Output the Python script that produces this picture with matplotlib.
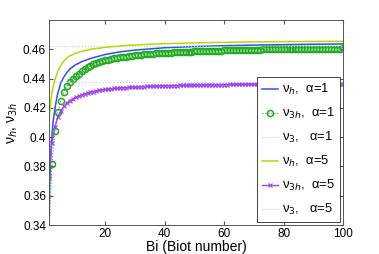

# homogenised poisson ratio against Biot number
import matplotlib.pyplot as plt

# Bi points used for the smooth curves
bi_line = [1, 1.25, 1.5, 1.75, 2, 2.5, 3, 3.5, 4, 5, 6, 7, 8, 10, 12, 15,
           20, 25, 30, 40, 50, 60, 70, 80, 90, 100]

nu_h_a1 = [0.343, 0.366, 0.382, 0.393, 0.401, 0.412, 0.419, 0.425, 0.430,
           0.437, 0.441, 0.444, 0.4465, 0.4495, 0.4515, 0.4538, 0.4565,
           0.4583, 0.4595, 0.4611, 0.4619, 0.4625, 0.4629, 0.4632, 0.4635,
           0.4637]

nu_h_a5 = [0.408, 0.416, 0.422, 0.427, 0.430, 0.435, 0.439, 0.442, 0.445,
           0.449, 0.452, 0.454, 0.4555, 0.4573, 0.4585, 0.4600, 0.4614,
           0.4623, 0.4630, 0.4639, 0.4644, 0.4648, 0.4651, 0.4653, 0.4654,
           0.4655]

# Bi = 1..100 for the marked series
bi_pts = list(range(1, 101))

nu_3h_a1 = [0.330, 0.382, 0.404, 0.417, 0.425, 0.431, 0.435, 0.4378, 0.440, 0.4418,
            0.4435, 0.4450, 0.4464, 0.4477, 0.4487, 0.4497, 0.4505, 0.4512, 0.4518, 0.4524,
            0.4529, 0.4534, 0.4538, 0.4542, 0.4545, 0.4548, 0.4551, 0.4554, 0.4557, 0.4559,
            0.4561, 0.4563, 0.4565, 0.4567, 0.4569, 0.4570, 0.4572, 0.4573, 0.4575, 0.4576,
            0.4577, 0.4578, 0.4580, 0.4581, 0.4582, 0.4583, 0.4584, 0.4584, 0.4585, 0.4586,
            0.4587, 0.4588, 0.4588, 0.4589, 0.4590, 0.4590, 0.4591, 0.4592, 0.4592, 0.4593,
            0.4593, 0.4594, 0.4594, 0.4595, 0.4595, 0.4596, 0.4596, 0.4597, 0.4597, 0.4597,
            0.4598, 0.4598, 0.4599, 0.4599, 0.4599, 0.4600, 0.4600, 0.4600, 0.4601, 0.4601,
            0.4601, 0.4602, 0.4602, 0.4602, 0.4602, 0.4603, 0.4603, 0.4603, 0.4603, 0.4604,
            0.4604, 0.4604, 0.4604, 0.4604, 0.4605, 0.4605, 0.4605, 0.4605, 0.4605, 0.4606]

nu_3h_a5 = [0.373, 0.396, 0.407, 0.4135, 0.418, 0.421, 0.4232, 0.4248, 0.4261, 0.4272,
            0.4281, 0.4289, 0.4296, 0.4302, 0.4307, 0.4312, 0.4316, 0.4320, 0.4323, 0.4326,
            0.4328, 0.4331, 0.4333, 0.4334, 0.4336, 0.4338, 0.4339, 0.4340, 0.4342, 0.4343,
            0.4344, 0.4345, 0.4346, 0.4347, 0.4347, 0.4348, 0.4349, 0.4350, 0.4350, 0.4351,
            0.4352, 0.4352, 0.4353, 0.4353, 0.4354, 0.4354, 0.4355, 0.4355, 0.4355, 0.4356,
            0.4356, 0.4357, 0.4357, 0.4357, 0.4358, 0.4358, 0.4358, 0.4358, 0.4359, 0.4359,
            0.4359, 0.4360, 0.4360, 0.4360, 0.4360, 0.4361, 0.4361, 0.4361, 0.4361, 0.4361,
            0.4362, 0.4362, 0.4362, 0.4362, 0.4362, 0.4362, 0.4363, 0.4363, 0.4363, 0.4363,
            0.4363, 0.4363, 0.4363, 0.4363, 0.4363, 0.4364, 0.4364, 0.4364, 0.4364, 0.4364,
            0.4364, 0.4364, 0.4364, 0.4364, 0.4365, 0.4365, 0.4365, 0.4365, 0.4365, 0.4365]

# asymptotic values (horizontal dotted lines)
nu_3_a1 = 0.4626
nu_3_a5 = 0.4375

x_ticks = [20, 40, 60, 80, 100]
y_ticks = [0.34, 0.36, 0.38, 0.40, 0.42, 0.44, 0.46]
y_tick_labels = ['0.34', '0.36', '0.38', '0.4', '0.42', '0.44', '0.46']


def draw_graph():
    plt.rcParams['font.family'] = ['Liberation Sans', 'DejaVu Sans']
    plt.rcParams['mathtext.fontset'] = 'dejavusans'

    fig = plt.figure(figsize=(3.79, 2.54), dpi=100)
    ax = fig.add_axes([0.129, 0.114, 0.776, 0.807])

    ax.plot(bi_line, nu_h_a1, color='#2f4ff2', lw=1.1,
            label='ν$_h$,  α=1')
    ax.plot(bi_pts, nu_3h_a1, color='#22aa22', ls=':', lw=0.8, marker='o',
            ms=4.4, mfc='none', mew=1.1, label='ν$_{3h}$,  α=1')
    ax.plot([1, 100], [nu_3_a1, nu_3_a1], color='#a8e4a0', ls=':', lw=0.8,
            label='ν$_3$,   α=1')
    ax.plot(bi_line, nu_h_a5, color='#b8d800', lw=1.1,
            label='ν$_h$,  α=5')
    ax.plot(bi_pts, nu_3h_a5, color='#a040f0', lw=1.0, marker='x',
            ms=2.6, mew=0.8, label='ν$_{3h}$,  α=5')
    ax.plot([1, 100], [nu_3_a5, nu_3_a5], color='#c8c4f4', ls=':', lw=0.8,
            label='ν$_3$,   α=5')

    ax.set_xlim(1, 100)
    ax.set_ylim(0.34, 0.48)
    ax.set_xticks(x_ticks)
    ax.set_yticks(y_ticks)
    ax.set_yticklabels(y_tick_labels)
    ax.tick_params(direction='in', top=True, right=True, length=3,
                   labelsize=8.5, color='#555555', pad=2)
    for s in ax.spines.values():
        s.set_color('#555555')
        s.set_linewidth(0.7)

    ax.set_xlabel('Bi (Biot number)', fontsize=10, labelpad=0)
    ax.set_ylabel('ν$_h$, ν$_{3h}$', fontsize=10, labelpad=2)

    leg = ax.legend(loc='lower right', fontsize=9.4, handlelength=1.2,
                    handletextpad=0.3, labelspacing=0.68, borderpad=0.4,
                    borderaxespad=0.2, fancybox=False, framealpha=1)
    leg.get_frame().set_edgecolor('#444444')
    leg.get_frame().set_linewidth(0.7)

    fig.savefig('out.png', dpi=100)


if __name__ == '__main__':
    draw_graph()
